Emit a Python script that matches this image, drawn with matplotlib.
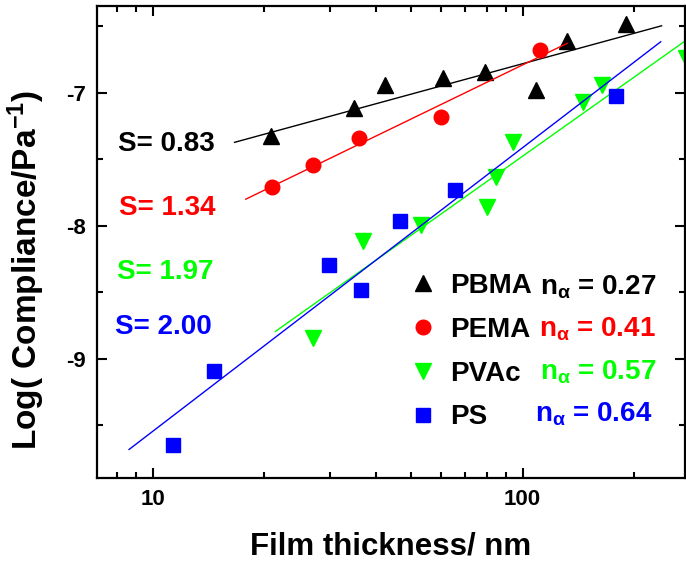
import matplotlib

matplotlib.use("Agg")
import matplotlib.pyplot as plt
import numpy as np
from matplotlib.ticker import AutoMinorLocator, LogLocator, NullFormatter, ScalarFormatter

plt.rcParams["font.family"] = ["Liberation Sans", "DejaVu Sans"]
plt.rcParams["font.weight"] = "bold"
plt.rcParams["axes.labelweight"] = "bold"
plt.rcParams["mathtext.default"] = "regular"
plt.rcParams["axes.unicode_minus"] = False

POLYMERS = ["PBMA", "PEMA", "PVAc", "PS"]
N_ALPHA = [0.27, 0.41, 0.57, 0.64]
S_VALUES = [0.83, 1.34, 1.97, 2.00]

# film thickness (nm) and log compliance
PBMA_H = [20.8, 35.0, 42.4, 61.0, 79.1, 108.4, 131.5, 190.5]
PBMA_LOGJ = [-7.32, -7.11, -6.94, -6.89, -6.84, -6.98, -6.61, -6.48]
PEMA_H = [21.0, 27.0, 36.1, 60.0, 111.6]
PEMA_LOGJ = [-7.71, -7.54, -7.34, -7.18, -6.68]
PVAC_H = [27.0, 36.9, 53.0, 80.2, 84.7, 94.0, 145.9, 163.7, 276.0]
PVAC_LOGJ = [-8.84, -8.11, -7.99, -7.86, -7.63, -7.37, -7.07, -6.94, -6.74]
PS_H = [11.3, 14.6, 29.9, 36.6, 46.6, 65.5, 178.6]
PS_LOGJ = [-9.65, -9.09, -8.29, -8.48, -7.96, -7.73, -7.02]

# fitted lines: logJ = a + b * log10(h), drawn between h_min and h_max
FIT_A = [-8.296, -9.483, -11.413, -11.671]
FIT_B = [0.758, 1.347, 1.969, 2.13]
FIT_HMIN = [16.6, 17.8, 21.4, 8.6]
FIT_HMAX = [237.7, 132.0, 300.0, 236.4]

COLORS = ["black", "red", "#00ff00", "blue"]
MARKERS = ["^", "o", "v", "s"]
MSIZES = [12, 10.5, 12, 9.5]


def main():
    fig = plt.figure(figsize=(6.86, 5.75), dpi=100)
    ax = fig.add_axes([0.141, 0.1687, 0.8575, 0.8209])

    heights = [PBMA_H, PEMA_H, PVAC_H, PS_H]
    logjs = [PBMA_LOGJ, PEMA_LOGJ, PVAC_LOGJ, PS_LOGJ]

    for i, name in enumerate(POLYMERS):
        ax.plot(heights[i], logjs[i], ls="none", marker=MARKERS[i], ms=MSIZES[i],
                color=COLORS[i], mec=COLORS[i], label=name)
        h = np.array([FIT_HMIN[i], FIT_HMAX[i]])
        ax.plot(h, FIT_A[i] + FIT_B[i] * np.log10(h), color=COLORS[i], lw=1.0)

    ax.set_xscale("log")
    ax.set_xlim(7.03, 275)
    ax.set_ylim(-9.895, -6.346)
    ax.xaxis.set_major_locator(LogLocator(base=10))
    ax.xaxis.set_minor_locator(LogLocator(base=10, subs=np.arange(2, 10)))
    ax.xaxis.set_major_formatter(ScalarFormatter())
    ax.xaxis.set_minor_formatter(NullFormatter())
    ax.set_yticks([-9, -8, -7])
    ax.yaxis.set_minor_locator(AutoMinorLocator(2))

    ax.tick_params(which="both", direction="in", top=True, right=True, width=1.5,
                   labelsize=16, pad=8)
    ax.tick_params(which="major", length=7)
    ax.tick_params(which="minor", length=4)
    for sp in ax.spines.values():
        sp.set_linewidth(1.6)

    ax.set_xlabel("Film thickness/ nm", fontsize=22.5)
    ax.set_ylabel("Log( Compliance/Pa$^{-1}$)", fontsize=24)
    ax.xaxis.set_label_coords(0.5, -0.114)
    ax.yaxis.set_label_coords(-0.085, 0.4407)

    # slope annotations on the left
    s_pos = [(0.036, 0.6934), (0.038, 0.5572), (0.035, 0.4216), (0.031, 0.3051)]
    for i, s in enumerate(S_VALUES):
        ax.text(s_pos[i][0], s_pos[i][1], f"S= {s:.2f}", transform=ax.transAxes,
                color=COLORS[i], fontsize=20, va="baseline", ha="left")

    ax.legend(loc="upper left", bbox_to_anchor=(0.5405, 0.4343), frameon=False,
              prop={"size": 20, "weight": "bold"}, handlelength=0.6, handletextpad=0.66,
              labelspacing=0.64, borderpad=0, borderaxespad=0, numpoints=1)

    n_pos = [(0.7535, 0.3898), (0.7524, 0.2994), (0.7535, 0.2091), (0.745, 0.1193)]
    for i, n in enumerate(N_ALPHA):
        ax.text(n_pos[i][0], n_pos[i][1], f"$n_\\alpha$ = {n:.2f}", transform=ax.transAxes,
                color=COLORS[i], fontsize=20, va="baseline", ha="left")

    fig.savefig("out.png", dpi=100)
    plt.close(fig)


if __name__ == "__main__":
    main()
